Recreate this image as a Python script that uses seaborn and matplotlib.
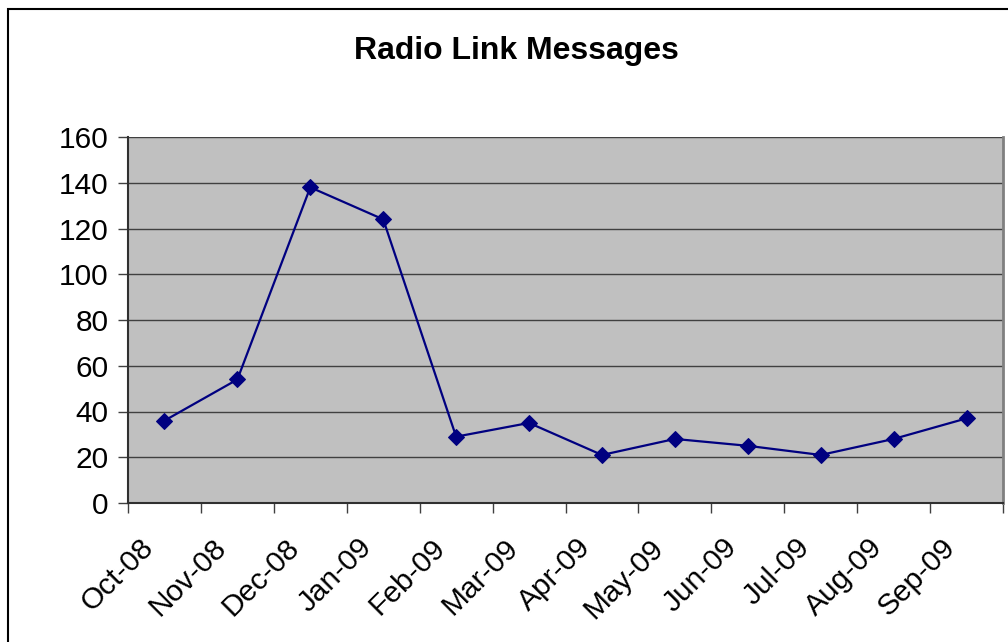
import matplotlib
matplotlib.use("Agg")
import matplotlib.pyplot as plt
import matplotlib.transforms as mtransforms
import seaborn as sns
import pandas as pd
from matplotlib.patches import Rectangle

months = ["Oct-08", "Nov-08", "Dec-08", "Jan-09", "Feb-09", "Mar-09",
          "Apr-09", "May-09", "Jun-09", "Jul-09", "Aug-09", "Sep-09"]
messages = [36, 54, 138, 124, 29, 35, 21, 28, 25, 21, 28, 37]

df = pd.DataFrame({"pos": range(len(months)), "Month": months, "Messages": messages})

sns.set_style("white")
plt.rcParams["font.family"] = ["Liberation Sans", "DejaVu Sans"]
plt.rcParams["text.color"] = "black"
plt.rcParams["xtick.color"] = "black"
plt.rcParams["ytick.color"] = "black"

fig = plt.figure(figsize=(10.08, 6.42), dpi=100)
ax = fig.add_axes([128 / 1008, 1 - 503 / 642, 875 / 1008, 366 / 642])
ax.set_facecolor("#C0C0C0")

sns.lineplot(data=df, x="pos", y="Messages", ax=ax, color="#000080",
             marker="D", markersize=8, markeredgecolor="#000080", linewidth=1.6)

ax.set_xlim(-0.5, len(months) - 0.5)
ax.set_ylim(0, 160)
ax.set_yticks(range(0, 161, 20))
ax.yaxis.grid(True, color="#404040", linewidth=1)
ax.set_axisbelow(True)

ax.set_xticks(range(len(months)))
ax.set_xticklabels(months, rotation=45, ha="right", va="baseline", rotation_mode="anchor")
ax.set_xticks([i - 0.5 for i in range(len(months) + 1)], minor=True)
ax.tick_params(axis="x", which="major", length=0, labelsize=21.5, pad=33)
ax.tick_params(axis="x", which="minor", length=7, width=1, color="#404040", direction="out")
ax.tick_params(axis="y", length=7, width=1, color="#404040", direction="out", labelsize=21.5, pad=7)
ax.tick_params(left=True, bottom=True)
ax.xaxis.set_tick_params(which="minor", bottom=True)

# nudge rotated month labels a little to the left
shift = mtransforms.ScaledTranslation(-10 / 100, 0, fig.dpi_scale_trans)
for lbl in ax.get_xticklabels():
    lbl.set_transform(lbl.get_transform() + shift)

ax.set_xlabel("")
ax.set_ylabel("")

for side in ["left", "bottom"]:
    ax.spines[side].set_color("#303030")
    ax.spines[side].set_linewidth(1.5)
ax.spines["top"].set_visible(False)
ax.spines["right"].set_color("#808080")
ax.spines["right"].set_linewidth(2)

fig.text(516 / 1008, 1 - 51 / 642, "Radio Link Messages", ha="center", va="center",
         fontsize=23, fontweight="bold")

fig.patches.append(Rectangle((7.5 / 1008, -0.1), 1.2, 1 - 9 / 642 + 0.1,
                             transform=fig.transFigure, fill=False,
                             edgecolor="black", linewidth=1.5))

fig.savefig("out.png", dpi=100)
